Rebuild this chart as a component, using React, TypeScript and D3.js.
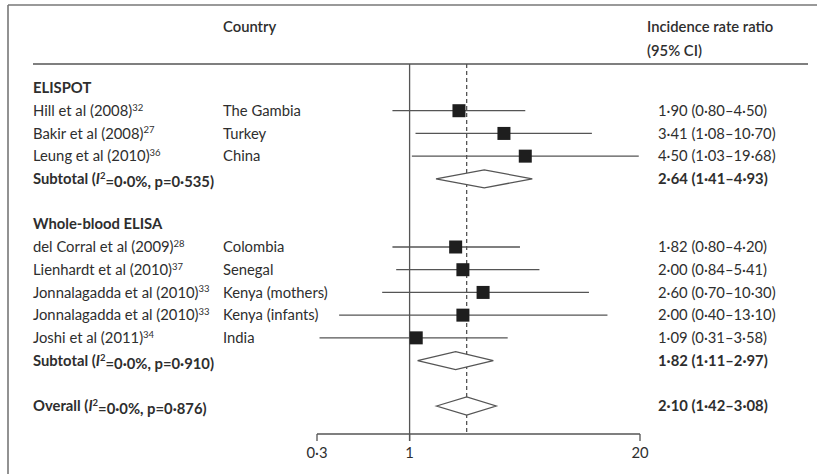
import React from 'react';
import * as d3 from 'd3';

// Rows
const elispotStudies = ['Hill et al (2008)', 'Bakir et al (2008)', 'Leung et al (2010)'];
const elispotRefs = ['32', '27', '36'];
const elispotCountries = ['The Gambia', 'Turkey', 'China'];
const elispotIrr = [1.9, 3.41, 4.5];
const elispotLo = [0.8, 1.08, 1.03];
const elispotHi = [4.5, 10.7, 19.68];

const elisaStudies = [
  'del Corral et al (2009)',
  'Lienhardt et al (2010)',
  'Jonnalagadda et al (2010)',
  'Jonnalagadda et al (2010)',
  'Joshi et al (2011)',
];
const elisaRefs = ['28', '37', '33', '33', '34'];
const elisaCountries = ['Colombia', 'Senegal', 'Kenya (mothers)', 'Kenya (infants)', 'India'];
const elisaIrr = [1.82, 2.0, 2.6, 2.0, 1.09];
const elisaLo = [0.8, 0.84, 0.7, 0.4, 0.31];
const elisaHi = [4.2, 5.41, 10.3, 13.1, 3.58];

// pooled: [estimate, lower, upper]
const elispotPooled = [2.64, 1.41, 4.93];
const elisaPooled = [1.82, 1.11, 2.97];
const overallPooled = [2.1, 1.42, 3.08];
const subtotalP = ['0·535', '0·910', '0·876'];

const axisTicks = [0.3, 1, 20];

const FONT = 'Lato, "Open Sans", sans-serif';
const TEXT = '#2e2e2e';
const LINE = '#555';

const fmt = (v: number) => d3.format('.2f')(v).replace('.', '·');
const ciText = (e: number, l: number, h: number) => `${fmt(e)} (${fmt(l)}–${fmt(h)})`;

export default function App() {
  const x = d3.scaleLog().domain([0.3, 20]).range([317, 640]);
  const y = d3.scaleLinear().domain([0, 14]).range([88, 406]);
  const axisY = 434;
  const topY = 64;

  const studyRows = [
    ...elispotStudies.map((s, i) => ({
      row: 1 + i, name: s, ref: elispotRefs[i], country: elispotCountries[i],
      e: elispotIrr[i], l: elispotLo[i], h: elispotHi[i],
    })),
    ...elisaStudies.map((s, i) => ({
      row: 7 + i, name: s, ref: elisaRefs[i], country: elisaCountries[i],
      e: elisaIrr[i], l: elisaLo[i], h: elisaHi[i],
    })),
  ];

  const pooledRows = [
    { row: 4, label: 'Subtotal', p: subtotalP[0], v: elispotPooled },
    { row: 12, label: 'Subtotal', p: subtotalP[1], v: elisaPooled },
    { row: 14, label: 'Overall', p: subtotalP[2], v: overallPooled },
  ];

  const sq = 13;
  const dh = 9;

  return (
    <svg width={817} height={474} style={{ position: 'absolute', left: 0, top: 0, background: '#fff' }}
      fontFamily={FONT} fontSize={14.8} fill={TEXT}>
      {/* frame */}
      <line x1={8} x2={817} y1={5} y2={5} stroke="#777" strokeWidth={1.6} />
      <line x1={8} x2={8} y1={5} y2={474} stroke="#777" strokeWidth={1.6} />

      {/* header */}
      <text x={223} y={27} dy="0.35em" fontWeight={600}>Country</text>
      <text x={647} y={27} dy="0.35em" fontWeight={600}>Incidence rate ratio</text>
      <text x={647} y={51} dy="0.35em" fontWeight={600}>(95% CI)</text>
      <line x1={33} x2={808} y1={topY} y2={topY} stroke={LINE} strokeWidth={1.5} />

      {/* reference lines */}
      <line x1={x(1)} x2={x(1)} y1={topY} y2={axisY + 7} stroke={LINE} strokeWidth={1.3} />
      <line x1={x(overallPooled[0])} x2={x(overallPooled[0])} y1={topY} y2={axisY}
        stroke={LINE} strokeWidth={1.3} strokeDasharray="4,3" />

      {/* group headers */}
      <text x={33} y={y(0)} dy="0.35em" fontWeight={700}>ELISPOT</text>
      <text x={33} y={y(6)} dy="0.35em" fontWeight={700}>Whole-blood ELISA</text>

      {studyRows.map((r) => (
        <g key={r.row}>
          <text x={33} y={y(r.row)} dy="0.35em">
            {r.name}
            <tspan fontSize={9.5} dy="-0.55em">{r.ref}</tspan>
          </text>
          <text x={223} y={y(r.row)} dy="0.35em">{r.country}</text>
          <line x1={x(r.l)} x2={x(r.h)} y1={y(r.row)} y2={y(r.row)} stroke={LINE} strokeWidth={1.3} />
          <rect x={x(r.e) - sq / 2} y={y(r.row) - sq / 2} width={sq} height={sq} fill="#1e1e1e" />
          <text x={658} y={y(r.row)} dy="0.35em">{ciText(r.e, r.l, r.h)}</text>
        </g>
      ))}

      {pooledRows.map((r) => {
        const [e, l, h] = r.v;
        const cy = y(r.row);
        const pts = [[x(l), cy], [x(e), cy - dh], [x(h), cy], [x(e), cy + dh]];
        return (
          <g key={r.row}>
            <text x={33} y={cy} dy="0.35em" fontWeight={700}>
              {r.label} (<tspan fontStyle="italic">I</tspan>
              <tspan fontSize={9.5} dy="-0.55em">2</tspan>
              <tspan dy="0.55em">=0·0%, p={r.p})</tspan>
            </text>
            <polygon points={pts.map((p) => p.join(',')).join(' ')} fill="#fff" stroke={LINE} strokeWidth={1.3} />
            <text x={658} y={cy} dy="0.35em" fontWeight={700}>{ciText(e, l, h)}</text>
          </g>
        );
      })}

      {/* axis */}
      <g transform={`translate(0,${axisY})`}>
        <line x1={x(0.3)} x2={x(20)} y1={0} y2={0} stroke={LINE} strokeWidth={1.3} />
        {axisTicks.map((t) => (
          <g key={t} transform={`translate(${x(t)},0)`}>
            <line y1={0} y2={7} stroke={LINE} strokeWidth={1.3} />
            <text y={19} dy="0.35em" textAnchor="middle">{String(t).replace('.', '·')}</text>
          </g>
        ))}
      </g>
    </svg>
  );
}
